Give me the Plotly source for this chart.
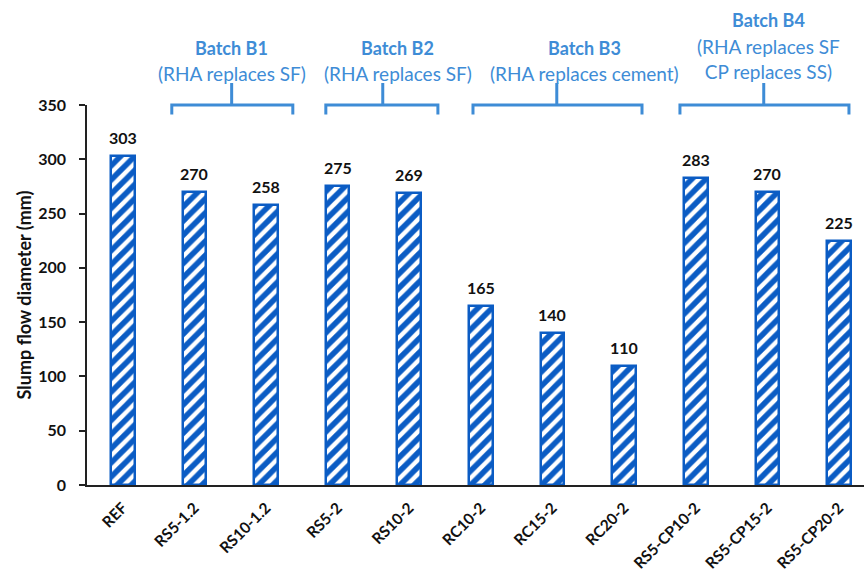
import plotly.graph_objects as go

# Slump flow results per mix
mixes = ["REF", "RS5-1.2", "RS10-1.2", "RS5-2", "RS10-2", "RC10-2", "RC15-2",
         "RC20-2", "RS5-CP10-2", "RS5-CP15-2", "RS5-CP20-2"]
slump_flow = [303, 270, 258, 275, 269, 165, 140, 110, 283, 270, 225]

# Batch groupings shown above the bars
batch_titles = ["Batch B1", "Batch B2", "Batch B3", "Batch B4"]
batch_notes = ["(RHA replaces SF)", "(RHA replaces SF)", "(RHA replaces cement)",
               "(RHA replaces SF<br>CP replaces SS)"]

BAR_BLUE = "#0B5CC4"
NOTE_BLUE = "#3E8CD6"
FONT = "Lato"

idx = list(range(len(mixes)))

fig = go.Figure()
fig.add_trace(go.Bar(
    x=idx,
    y=slump_flow,
    width=0.33,
    marker=dict(
        color="white",
        line=dict(color=BAR_BLUE, width=2.5),
        pattern=dict(shape="/", fgcolor=BAR_BLUE, bgcolor="white",
                     fgopacity=1, size=10, solidity=0.55),
    ),
    hoverinfo="x+y",
))

# value labels above each bar
for i, v in zip(idx, slump_flow):
    fig.add_annotation(x=i, y=v, text=f"<b>{v}</b>", showarrow=False,
                       yanchor="bottom", yshift=7,
                       font=dict(family=FONT, size=16, color="#111111"))

# bracket geometry: (left, right, stem) in category units, text centre
brackets = [
    (0.684, 2.374, 1.52, 1.52),
    (2.835, 4.40, 3.63, 3.84),
    (4.89, 7.25, 6.06, 6.45),
    (7.78, 10.14, 8.95, 9.02),
]
y_bar, y_tip, y_stem = 1.0, 0.975, 1.058
for k, (x0, x1, xs, xt) in enumerate(brackets):
    path = (f"M {x0},{y_tip} L {x0},{y_bar} L {x1},{y_bar} L {x1},{y_tip} "
            f"M {xs},{y_bar} L {xs},{y_stem}")
    fig.add_shape(type="path", path=path, xref="x", yref="paper",
                  line=dict(color=NOTE_BLUE, width=3))
    two_line = "<br>" in batch_notes[k]
    fig.add_annotation(x=xt, xref="x", y=1.224 if two_line else 1.150,
                       yref="paper", text=f"<b>{batch_titles[k]}</b>",
                       showarrow=False, yanchor="middle",
                       font=dict(family=FONT, size=18, color=NOTE_BLUE))
    fig.add_annotation(x=xt, xref="x", y=1.122 if two_line else 1.084,
                       yref="paper", text=batch_notes[k], showarrow=False,
                       yanchor="middle",
                       font=dict(family=FONT, size=19, color=NOTE_BLUE))

fig.update_layout(
    width=864, height=579,
    margin=dict(l=87, r=0, t=105, b=94),
    plot_bgcolor="white", paper_bgcolor="white",
    showlegend=False,
    font=dict(family=FONT, color="#111111"),
    bargap=0.0,
)
fig.update_xaxes(
    range=[-0.5, 10.35], automargin=False,
    tickmode="array", tickvals=idx,
    ticktext=[f"<b>{m}</b>" for m in mixes],
    tickangle=-45, tickfont=dict(family=FONT, size=15.5, color="#111111"),
    ticklabelstandoff=6,
    showline=True, linecolor="#222222", linewidth=1.5,
    ticks="", showgrid=False, zeroline=False,
)
fig.update_yaxes(
    range=[0, 350], dtick=50, automargin=False,
    tickfont=dict(family=FONT, size=16, color="#111111"),
    tickprefix="<b>", ticksuffix="</b>",
    showline=True, linecolor="#222222", linewidth=1.5,
    ticks="outside", ticklen=6, tickcolor="#222222", tickwidth=1.5,
    ticklabelstandoff=10,
    showgrid=False, zeroline=False,
    title=dict(text="<b>Slump flow diameter (mm)</b>",
               font=dict(family=FONT, size=18, color="#111111"), standoff=2),
)

fig.write_html("out.html")
